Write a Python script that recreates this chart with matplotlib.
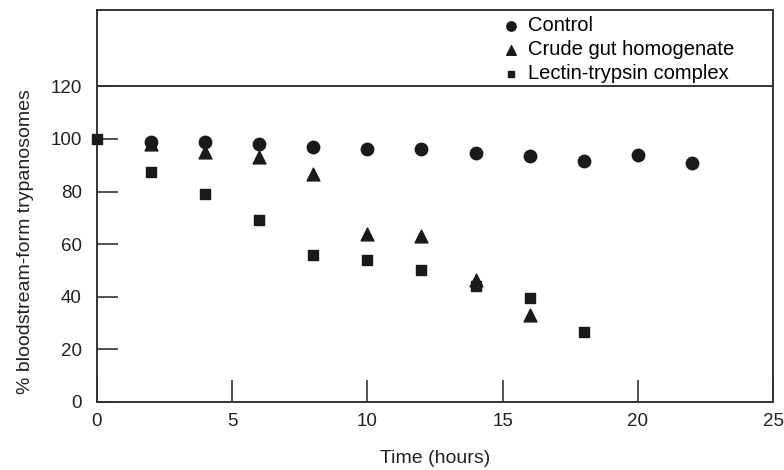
import matplotlib.pyplot as plt

plt.rcParams['font.family'] = ['Liberation Sans', 'DejaVu Sans']

hours = [2, 4, 6, 8, 10, 12, 14, 16, 18, 20, 22]
control = [99, 99, 98, 97, 96, 96, 94.5, 93.5, 91.5, 94, 91]

gut_hours = [2, 4, 6, 8, 10, 12, 14, 16]
gut = [98, 95, 93, 86.5, 64, 63, 46.5, 33]

lectin_hours = [0, 2, 4, 6, 8, 10, 12, 14, 16, 18]
lectin = [100, 87.5, 79, 69, 56, 54, 50, 44, 39.5, 26.5]

fig = plt.figure(figsize=(7.84, 4.70), dpi=100)
ax = fig.add_axes([97 / 784, (470 - 402) / 470, (773 - 97) / 784, (402 - 10) / 470])

ink = '#1a1a1a'
ax.scatter(hours, control, marker='o', s=80, color=ink, label='Control', zorder=3)
ax.scatter(gut_hours, gut, marker='^', s=85, color=ink, label='Crude gut homogenate', zorder=3)
ax.scatter(lectin_hours, lectin, marker='s', s=45, color=ink, label='Lectin-trypsin complex',
           zorder=3, clip_on=False)

ax.axhline(120, color='#333333', linewidth=1.4)

ax.set_xlim(0, 25)
ax.set_ylim(0, 149)
ax.set_xticks([0, 5, 10, 15, 20, 25])
ax.set_yticks([0, 20, 40, 60, 80, 100, 120])

for s in ax.spines.values():
    s.set_color('#333333')
    s.set_linewidth(1.4)

ax.tick_params(axis='x', direction='in', length=16, width=1.2, color='#333333',
               labelsize=13.5, pad=8, labelcolor='#222222')
ax.tick_params(axis='y', direction='in', length=15, width=1.2, color='#333333',
               labelsize=13.5, pad=11, labelcolor='#222222')

ax.set_xlabel('Time (hours)', fontsize=14, color='#222222', labelpad=14)
ax.set_ylabel('% bloodstream-form trypanosomes', fontsize=14, color='#222222')
# label sits a little below the middle of the axis
ax.yaxis.set_label_coords(-0.093, 0.41)

ax.legend(loc='upper left', bbox_to_anchor=(0.58, 1.015), frameon=False,
          fontsize=14.5, handletextpad=0.35, labelspacing=0.25, borderaxespad=0.2,
          markerscale=0.75, handlelength=1.0)

fig.savefig('out.png', dpi=100)
